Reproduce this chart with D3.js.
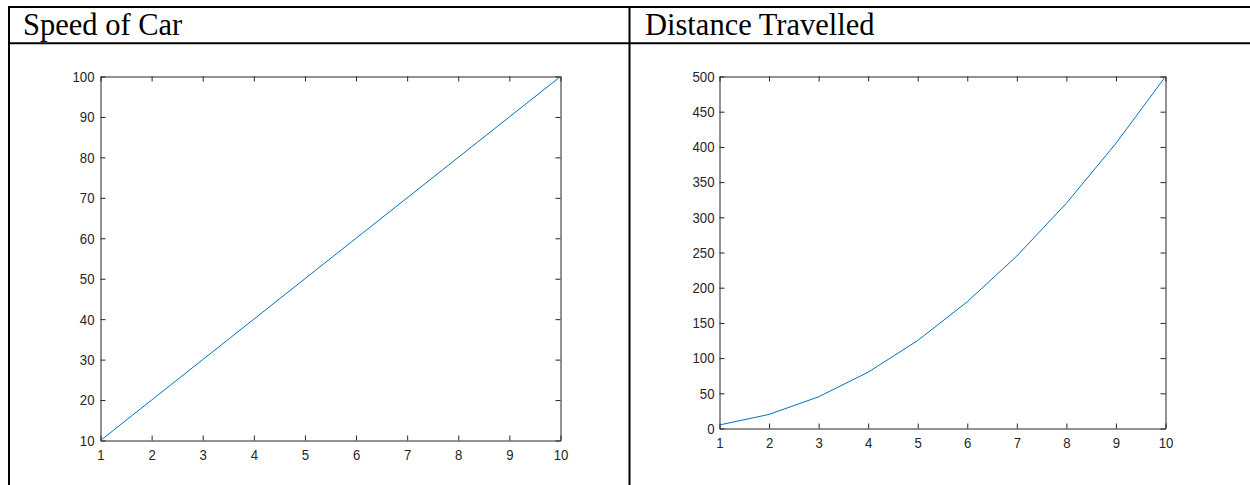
<!DOCTYPE html>
<html>
<head>
<meta charset="utf-8">
<title>Speed of Car / Distance Travelled</title>
<script src="https://d3js.org/d3.v7.min.js"></script>
<style>
  body { margin: 0; background: #fff; }
  .tick text { font-family: "Liberation Sans", Arial, sans-serif; font-size: 13.2px; fill: #262626; }
  .header { font-family: "Liberation Serif", "Times New Roman", serif; font-size: 30.5px; fill: #000; }
</style>
</head>
<body>
<div id="chart"></div>
<script>

// time (s)
var time = [1, 2, 3, 4, 5, 6, 7, 8, 9, 10];
// speed
var speed = [10, 20, 30, 40, 50, 60, 70, 80, 90, 100];
// distance
var distance = [5, 20, 45, 80, 125, 180, 245, 320, 405, 500];

var titles = ["Speed of Car", "Distance Travelled"];
var speedTicks = [10, 20, 30, 40, 50, 60, 70, 80, 90, 100];
var distTicks = [0, 50, 100, 150, 200, 250, 300, 350, 400, 450, 500];

var W = 1250, H = 485;

var svg = d3.select("#chart")
    .append("svg")
    .attr("width", W)
    .attr("height", H);

// table borders
var border = svg.append("g")
    .attr("stroke", "#000")
    .attr("stroke-width", 2);
border.append("line").attr("x1", 8).attr("x2", W).attr("y1", 7).attr("y2", 7);
border.append("line").attr("x1", 8).attr("x2", W).attr("y1", 43.3).attr("y2", 43.3);
border.append("line").attr("x1", 9).attr("x2", 9).attr("y1", 6).attr("y2", H);
border.append("line").attr("x1", 629.5).attr("x2", 629.5).attr("y1", 6).attr("y2", H);

svg.append("text").attr("class", "header").attr("x", 23).attr("y", 35).text(titles[0]);
svg.append("text").attr("class", "header").attr("x", 645).attr("y", 35).text(titles[1]);

function panel(box, yValues, yTicks, yPad) {
    var g = svg.append("g");

    var x = d3.scaleLinear().domain([1, 10]).range([box.left, box.right]);
    var y = d3.scaleLinear().domain([yTicks[0], yTicks[yTicks.length - 1]]).range([box.bottom, box.top]);

    var tick = 5;

    g.append("g")
        .attr("transform", "translate(0," + box.bottom + ")")
        .call(d3.axisBottom(x).tickValues(time).tickSizeInner(-tick).tickSizeOuter(0).tickPadding(8));
    g.append("g")
        .attr("transform", "translate(0," + box.top + ")")
        .call(d3.axisTop(x).tickValues(time).tickSizeInner(-tick).tickSizeOuter(0).tickFormat(""));
    g.append("g")
        .attr("transform", "translate(" + box.left + ",0)")
        .call(d3.axisLeft(y).tickValues(yTicks).tickSizeInner(-tick).tickSizeOuter(0).tickPadding(yPad));
    g.append("g")
        .attr("transform", "translate(" + box.right + ",0)")
        .call(d3.axisRight(y).tickValues(yTicks).tickSizeInner(-tick).tickSizeOuter(0).tickFormat(""));

    g.selectAll(".domain, .tick line").attr("stroke", "#262626");
    // labels in the picture are a little taller than wide
    g.selectAll(".tick text").attr("transform", "scale(1,1.15)");

    var line = d3.line()
        .x(function(d, i) { return x(time[i]); })
        .y(function(d) { return y(d); });

    g.append("path")
        .datum(yValues)
        .attr("fill", "none")
        .attr("stroke", "#0072BD")
        .attr("stroke-width", 1)
        .attr("d", line);
}

panel({left: 100.5, right: 560.5, top: 76.5, bottom: 440.5}, speed, speedTicks, 6);
panel({left: 719.5, right: 1165.5, top: 76.5, bottom: 428.5}, distance, distTicks, 5);

</script>
</body>
</html>
